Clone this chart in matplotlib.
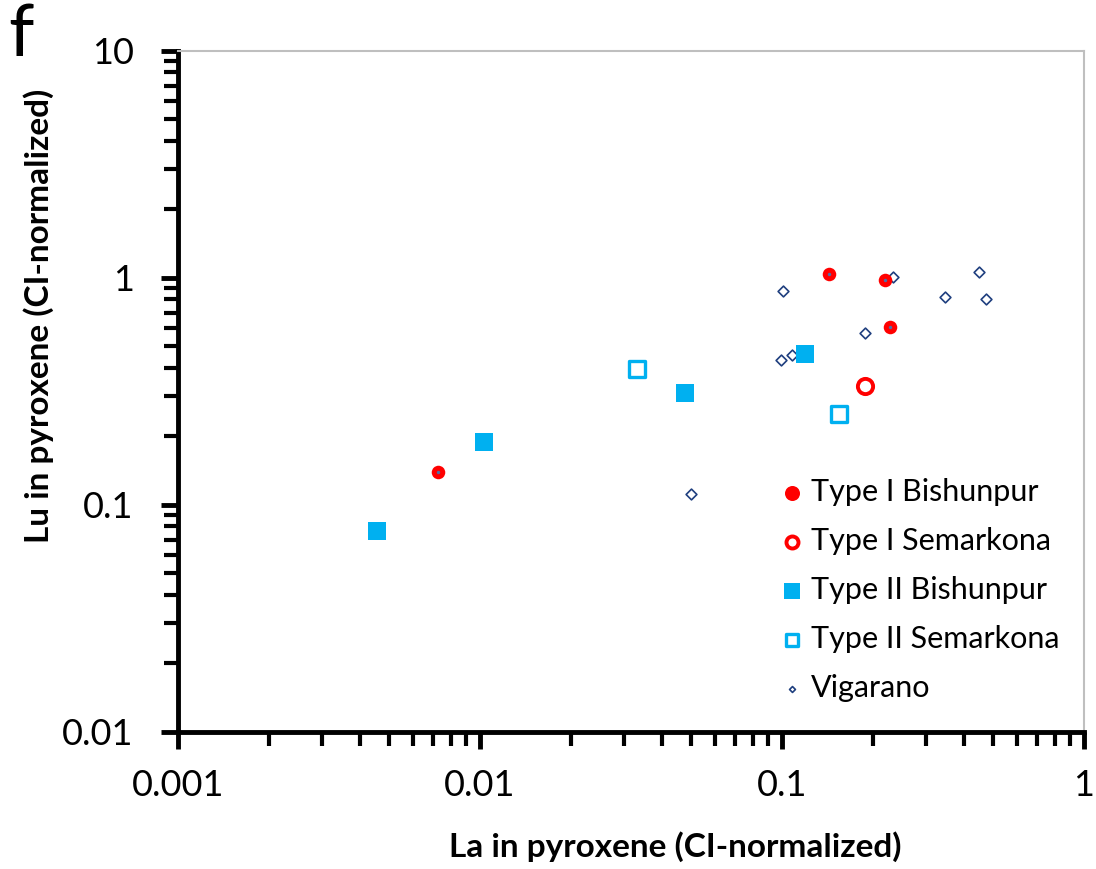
import matplotlib
matplotlib.use('Agg')
import matplotlib.pyplot as plt
from matplotlib.ticker import LogLocator, NullFormatter, FixedLocator, FixedFormatter

plt.rcParams['font.family'] = ['Lato', 'DejaVu Sans']

# =============================================================================
# Data (CI-normalized La vs Lu in pyroxene)
# =============================================================================

type1_bish_la = [0.00726, 0.143, 0.220, 0.228]
type1_bish_lu = [0.139, 1.036, 0.978, 0.604]

type1_sem_la = [0.188]
type1_sem_lu = [0.333]

type2_bish_la = [0.00456, 0.0103, 0.0478, 0.119]
type2_bish_lu = [0.0764, 0.1885, 0.309, 0.459]

type2_sem_la = [0.0331, 0.155]
type2_sem_lu = [0.394, 0.250]

vig_la = [0.1005, 0.233, 0.449, 0.346, 0.474, 0.189, 0.0995, 0.108, 0.0498]
vig_lu = [0.872, 1.008, 1.057, 0.822, 0.806, 0.569, 0.4345, 0.456, 0.111]

tick_vals = [0.001, 0.01, 0.1, 1, 10]
tick_labels = ['0.001', '0.01', '0.1', '1', '10']

red = '#FF0000'
cyan = '#00B0F0'
navy = '#1F3F7F'

# =============================================================================
# Figure
# =============================================================================

fig = plt.figure(figsize=(10.96, 8.69), dpi=100)
ax = fig.add_axes([178 / 1096, 1 - 731.5 / 869, 906 / 1096, 681 / 869])

ax.scatter(type1_bish_la, type1_bish_lu, s=95, marker='o', color=red,
           linewidths=0, label='Type I Bishunpur', zorder=4)
ax.scatter(type1_bish_la, type1_bish_lu, s=6, marker='o', color='#4F6FA8',
           linewidths=0, zorder=5)
ax.scatter(type1_sem_la, type1_sem_lu, s=120, marker='o', facecolors='white',
           edgecolors=red, linewidths=2.8, label='Type I Semarkona', zorder=4)
ax.scatter(type2_bish_la, type2_bish_lu, s=150, marker='s', color=cyan,
           linewidths=0, label='Type II Bishunpur', zorder=4)
ax.scatter(type2_sem_la, type2_sem_lu, s=125, marker='s', facecolors='white',
           edgecolors=cyan, linewidths=2.4, label='Type II Semarkona', zorder=4)
ax.scatter(vig_la, vig_lu, s=30, marker='D', facecolors='white',
           edgecolors=navy, linewidths=1.2, label='Vigarano', zorder=3)

ax.set_xscale('log')
ax.set_yscale('log')
ax.set_xlim(0.001, 1)
ax.set_ylim(0.01, 10)

ax.xaxis.set_major_locator(FixedLocator(tick_vals[:4]))
ax.xaxis.set_major_formatter(FixedFormatter(tick_labels[:4]))
ax.yaxis.set_major_locator(FixedLocator(tick_vals[1:]))
ax.yaxis.set_major_formatter(FixedFormatter(tick_labels[1:]))
for axis in (ax.xaxis, ax.yaxis):
    axis.set_minor_locator(LogLocator(base=10, subs=range(2, 10), numticks=20))
    axis.set_minor_formatter(NullFormatter())

ax.tick_params(which='major', length=12, width=3.5, labelsize=26, direction='out')
ax.tick_params(which='minor', length=10, width=3, direction='out')
ax.tick_params(axis='y', which='major', pad=20)
ax.tick_params(axis='x', which='major', pad=15)

for side in ('left', 'bottom'):
    ax.spines[side].set_linewidth(3.5)
    ax.spines[side].set_color('black')
for side in ('top', 'right'):
    ax.spines[side].set_linewidth(1.5)
    ax.spines[side].set_color('#BFBFBF')

fig.text(675 / 1096, 1 - 847 / 869, 'La in pyroxene (CI-normalized)', fontsize=24,
         fontweight='bold', ha='center', va='center')
fig.text(39 / 1096, 1 - 316 / 869, 'Lu in pyroxene (CI-normalized)', fontsize=24,
         fontweight='bold', ha='center', va='center', rotation=90)
fig.text(8 / 1096, 1 - 36 / 869, 'f', fontsize=52, ha='left', va='center')

leg = ax.legend(loc='lower right', bbox_to_anchor=(1.0 + 5 / 906, 0.0), frameon=False,
                fontsize=22, handletextpad=0.1, labelspacing=0.68,
                borderaxespad=0.58, handlelength=1.0)
legend_sizes = [117, 75, 117, 75, 9]
for h, sz in zip(leg.legend_handles, legend_sizes):
    h.set_sizes([sz])

fig.savefig('out.png', dpi=100)
